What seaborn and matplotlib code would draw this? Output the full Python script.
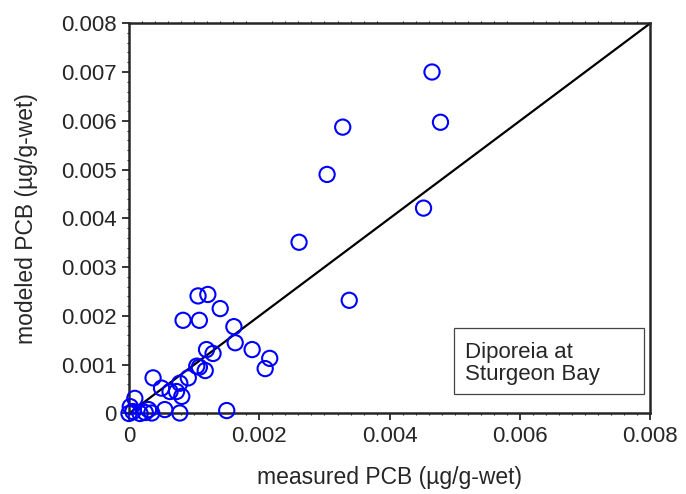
import numpy as np
import pandas as pd
import matplotlib
matplotlib.use('Agg')
import matplotlib.pyplot as plt
import seaborn as sns
from matplotlib.patches import Rectangle
from matplotlib.ticker import MultipleLocator, FuncFormatter

# measured vs modeled PCB (ug/g-wet), Diporeia at Sturgeon Bay
measured = [0.00465, 0.00478, 0.00328, 0.00304, 0.00452, 0.00261, 0.00338,
            0.00106, 0.00121, 0.00140, 0.00083, 0.00108, 0.00161, 0.00163,
            0.00119, 0.00129, 0.00189, 0.00216, 0.00209, 0.00108, 0.00117,
            0.00104, 0.00091, 0.00078, 0.00073, 0.00081, 0.00150, 0.00078,
            0.00037, 0.00050, 0.00063, 0.00009, 0.00002, 0.00000, 0.00030,
            0.00035, 0.00055, 0.00017, 0.00006, 0.00025]
modeled = [0.00700, 0.00597, 0.00587, 0.00490, 0.00421, 0.00351, 0.00232,
           0.00241, 0.00244, 0.00215, 0.00191, 0.00191, 0.00178, 0.00145,
           0.00131, 0.00123, 0.00131, 0.00113, 0.00092, 0.00095, 0.00088,
           0.00097, 0.00073, 0.00062, 0.00045, 0.00035, 0.00006, 0.00001,
           0.00073, 0.00052, 0.00045, 0.00031, 0.00014, 0.00000, 0.00008,
           0.00001, 0.00008, 0.00000, 0.00004, 0.00002]
one_to_one = [0, 0.008]

df = pd.DataFrame({'measured': measured, 'modeled': modeled})

sns.set_style('ticks')
plt.rcParams['font.family'] = ['Liberation Sans', 'DejaVu Sans']

fig, ax = plt.subplots(figsize=(6.86, 4.94), dpi=100)
fig.subplots_adjust(left=0.188, right=0.948, top=0.953, bottom=0.163)

ax.plot(one_to_one, one_to_one, color='black', lw=1.6, zorder=1)
sns.scatterplot(data=df, x='measured', y='modeled', ax=ax, marker='o',
                s=120, facecolor='none', edgecolor='#0000ff', linewidth=1.5,
                clip_on=False, zorder=3)

ax.set_xlim(0, 0.008)
ax.set_ylim(0, 0.008)
fmt = FuncFormatter(lambda v, p: '0' if abs(v) < 1e-12 else f'{v:.3f}')
ax.xaxis.set_major_locator(MultipleLocator(0.002))
ax.xaxis.set_minor_locator(MultipleLocator(0.0002))
ax.yaxis.set_major_locator(MultipleLocator(0.001))
ax.yaxis.set_minor_locator(MultipleLocator(0.0002))
ax.xaxis.set_major_formatter(fmt)
ax.yaxis.set_major_formatter(fmt)

ax.tick_params(which='both', direction='out', top=False, right=False)
ax.tick_params(which='major', length=5, width=1.3, labelsize=16, pad=4)
ax.tick_params(which='minor', length=1.5, width=0.8, top=True)
for sp in ax.spines.values():
    sp.set_linewidth(1.8)

ax.set_xlabel('measured PCB (µg/g-wet)', fontsize=16.5, labelpad=14)
ax.set_ylabel('modeled PCB (µg/g-wet)', fontsize=16.5, labelpad=16)

ax.add_patch(Rectangle((0.00499, 0.00039), 0.00291, 0.00136, facecolor='white',
                       edgecolor='#444444', linewidth=0.9, zorder=4))
ax.text(0.00516, 0.00102, 'Diporeia at\nSturgeon Bay', fontsize=16, va='center',
        ha='left', linespacing=1.05, zorder=5)

fig.savefig('out.png', dpi=100)
